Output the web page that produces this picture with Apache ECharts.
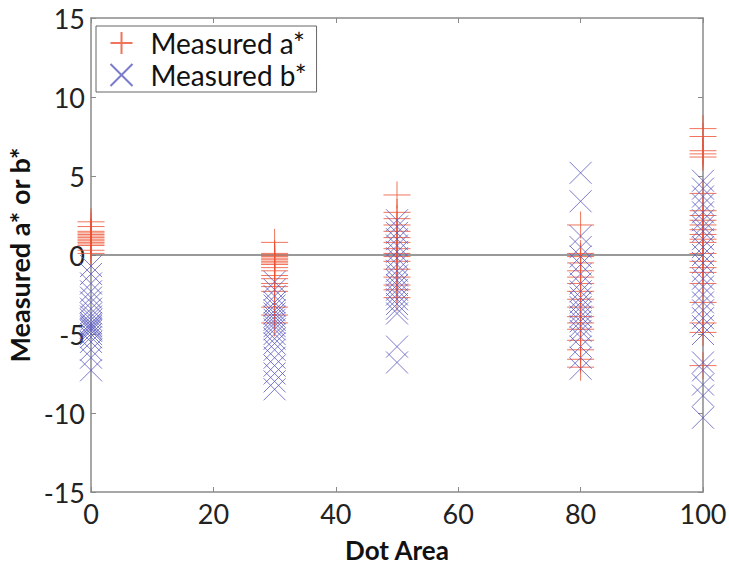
<!DOCTYPE html>
<html><head><meta charset="utf-8">
<script src="https://cdn.jsdelivr.net/npm/echarts@6/dist/echarts.min.js"></script>
<style>html,body{margin:0;padding:0;background:#fff}#c{width:729px;height:569px}</style>
</head><body><div id="c"></div>
<script>
const xTicks = [0, 20, 40, 60, 80, 100];
const yTicks = [-15, -10, -5, 0, 5, 10, 15];
const dotAreas = [0, 30, 50, 80, 100];
const a0 = [2.1, 1.8, 1.5, 1.4, 1.3, 1.2, 1.1, 1.0, 0.9, 0.8, 0.7, 0.6, 0.3, 0.1];
const b0 = [-0.7, -1.2, -1.8, -2.3, -2.7, -3.0, -3.4, -3.7, -3.9, -4.1, -4.3, -4.4, -4.5, -4.6, -4.7, -4.8, -5.0, -5.2, -5.5, -6.0, -6.5, -7.3];
const a30 = [0.8, 0.1, 0, -0.1, -0.2, -0.3, -0.4, -0.5, -0.6, -0.8, -1.0, -1.3, -1.5, -1.8, -2.0, -2.3, -3.3, -3.8, -4.3];
const b30 = [-1.7, -2.2, -2.6, -3.0, -3.2, -3.5, -3.7, -3.9, -4.1, -4.3, -4.5, -4.7, -5.0, -5.3, -5.6, -6.0, -6.5, -7.0, -7.5, -8.0, -8.5];
const a50 = [3.8, 2.7, 2.3, 1.9, 1.5, 1.1, 0.8, 0.4, 0.1, -0.1, -0.4, -0.9, -1.4, -1.9, -2.2, -2.7];
const b50 = [2.2, 1.8, 1.4, 1.0, 0.6, 0.2, -0.2, -0.6, -1.0, -1.3, -1.6, -1.9, -2.2, -2.5, -2.8, -3.1, -3.4, -3.7, -5.8, -6.8];
const a80 = [1.9, 0.1, -0.1, -0.5, -1.0, -1.4, -1.8, -2.3, -2.8, -3.3, -3.9, -4.3, -4.7, -5.4, -6.0, -6.6, -7.1];
const b80 = [5.2, 3.4, 1.2, 0.5, -0.1, -0.6, -1.2, -1.8, -2.3, -2.7, -3.0, -3.3, -3.6, -3.9, -4.2, -4.5, -4.8, -5.2, -5.8, -6.5, -7.2];
const a100 = [8.0, 7.5, 6.6, 6.4, 6.2, 3.9, 2.8, 2.5, 2.2, 1.9, 1.6, 1.3, 1.0, 0.8, 0.1, -0.4, -0.8, -1.1, -1.8, -3.0, -4.3, -4.9, -7.0];
const b100 = [4.7, 4.2, 3.7, 3.2, 2.7, 2.2, 1.8, 1.5, 1.0, 0.5, 0, -0.5, -1.0, -1.5, -2.0, -2.5, -3.0, -3.5, -4.0, -4.5, -5.0, -6.8, -7.3, -8.2, -8.9, -10.3];
const aGroups = [a0, a30, a50, a80, a100];
const bGroups = [b0, b30, b50, b80, b100];

function toPoints(groups) {
  const pts = [];
  groups.forEach((g, i) => g.forEach(v => pts.push([dotAreas[i], v])));
  return pts;
}
const FONT = 'Lato';
const axisColor = '#8a8a8a';
const chart = echarts.init(document.getElementById('c'), null, { renderer: 'svg' });
const frameAxis = {
  min: 0, max: 100, interval: 20,
  axisLine: { onZero: false, lineStyle: { color: axisColor, width: 1.5 } },
  axisTick: { inside: true, length: 5, lineStyle: { color: axisColor } },
  splitLine: { show: false }
};
chart.setOption({
  animation: false,
  grid: { left: 91, right: 26, top: 18, bottom: 77, containLabel: false, outerBoundsMode: 'none' },
  legend: {
    left: 96, top: 26, orient: 'vertical',
    padding: [3, 10, 3, 12], itemGap: 4,
    backgroundColor: '#fff', borderColor: '#666', borderWidth: 1,
    itemWidth: 22, itemHeight: 22,
    textStyle: { fontFamily: FONT, fontSize: 28, lineHeight: 28, color: '#111', padding: [0, 0, 0, 13] },
    data: ['Measured a*', 'Measured b*']
  },
  xAxis: [
    Object.assign({}, frameAxis, {
      type: 'value', position: 'bottom',
      name: 'Dot Area', nameLocation: 'middle', nameGap: 45,
      nameTextStyle: { fontFamily: FONT, fontWeight: 'bold', fontSize: 26, color: '#111' },
      axisLabel: { fontFamily: FONT, fontSize: 27, color: '#222', margin: 8,
        formatter: v => xTicks.includes(v) ? String(v) : '' }
    }),
    Object.assign({}, frameAxis, { type: 'value', position: 'top', axisLabel: { show: false } })
  ],
  yAxis: [
    Object.assign({}, frameAxis, {
      type: 'value', position: 'left', min: -15, max: 15, interval: 5,
      name: 'Measured a* or b*', nameLocation: 'middle', nameGap: 56, nameRotate: 90,
      nameTextStyle: { fontFamily: FONT, fontWeight: 'bold', fontSize: 27, color: '#111' },
      axisLabel: { fontFamily: FONT, fontSize: 27, color: '#222', margin: 6,
        formatter: v => yTicks.includes(v) ? String(v) : '' }
    }),
    Object.assign({}, frameAxis, { type: 'value', position: 'right', min: -15, max: 15, interval: 5, axisLabel: { show: false } })
  ],
  series: [
    {
      type: 'line', silent: true, symbol: 'none', xAxisIndex: 0, yAxisIndex: 0,
      data: [[0, 0], [100, 0]], lineStyle: { color: '#777', width: 1.5 }, z: 1
    },
    {
      name: 'Measured a*', type: 'scatter', xAxisIndex: 0, yAxisIndex: 0, silent: true,
      emphasis: { disabled: true },
      symbol: 'path://M0,10L20,10M10,0L10,20', symbolSize: 27,
      itemStyle: { color: 'none', borderColor: '#ee5032', borderWidth: 1 },
      data: toPoints(aGroups), z: 3
    },
    {
      name: 'Measured b*', type: 'scatter', xAxisIndex: 0, yAxisIndex: 0, silent: true,
      emphasis: { disabled: true },
      symbol: 'path://M0,0L20,20M20,0L0,20', symbolSize: 22,
      itemStyle: { color: 'none', borderColor: '#5a5abf', borderWidth: 1 },
      data: toPoints(bGroups), z: 4
    }
  ]
});
</script></body></html>
